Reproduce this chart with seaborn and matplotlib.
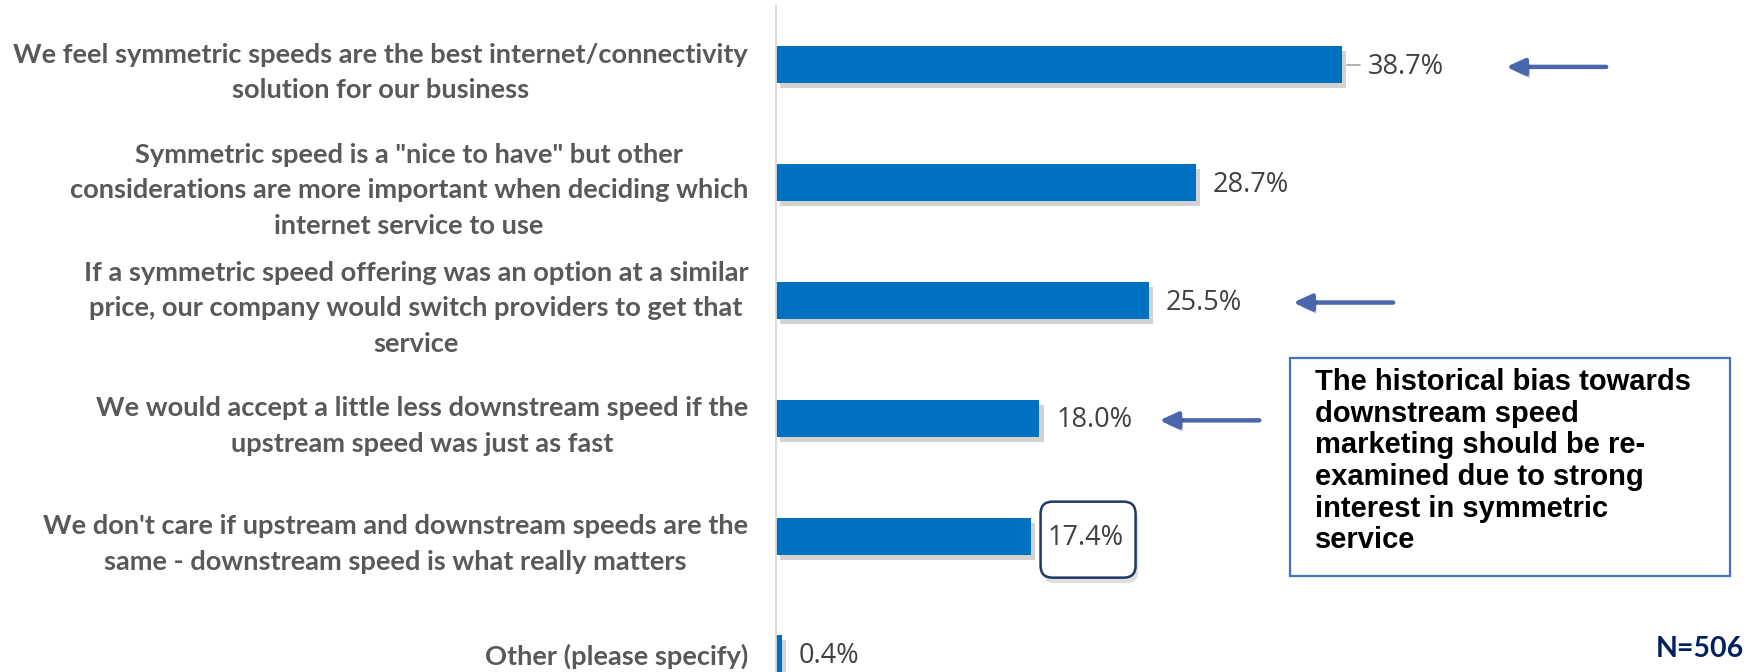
import matplotlib
matplotlib.use("Agg")
import matplotlib.pyplot as plt
import matplotlib.patheffects as pe
import matplotlib.transforms as mtransforms
from matplotlib.font_manager import FontProperties
from matplotlib.patches import FancyBboxPatch, Rectangle
from matplotlib.lines import Line2D
import seaborn as sns
import pandas as pd

# ---- data -------------------------------------------------------------
statements = [
    "We feel symmetric speeds are the best internet/connectivity\nsolution for our business",
    "Symmetric speed is a \"nice to have\" but other\nconsiderations are more important when deciding which\ninternet service to use",
    "If a symmetric speed offering was an option at a similar\nprice, our company would switch providers to get that\nservice",
    "We would accept a little less downstream speed if the\nupstream speed was just as fast",
    "We don't care if upstream and downstream speeds are the\nsame - downstream speed is what really matters",
    "Other (please specify)",
]
shares = [38.7, 28.7, 25.5, 18.0, 17.4, 0.4]
value_labels = [f"{v:.1f}%" for v in shares]
arrow_rows = [0, 2, 3]
boxed_row = 4
callout_text = ("The historical bias towards\ndownstream speed\nmarketing should be re-\n"
                "examined due to strong\ninterest in symmetric\nservice")
sample_note = "N=506"

# ---- style ------------------------------------------------------------
sns.set_theme(style="white")
plt.rcParams["font.family"] = ["Lato", "DejaVu Sans"]

BAR_BLUE = "#0070C0"
ARROW_BLUE = "#4A66AC"
LABEL_GREY = "#595959"
VALUE_GREY = "#404040"

W, H = 1746, 672
fig = plt.figure(figsize=(W / 100, H / 100), dpi=100)
fig.patch.set_facecolor("white")
renderer = fig.canvas.get_renderer()


def line_gap(px, fp):
    """linespacing factor giving a baseline-to-baseline distance of px pixels"""
    _, h, d = renderer.get_text_width_height_descent("lp", fp, ismath=False)
    return (px - d) / (h - d)


def size_for_width(text, px, fp):
    fp = fp.copy()
    fp.set_size(10)
    w, _, _ = renderer.get_text_width_height_descent(text, fp, ismath=False)
    return 10 * px / w


ax = fig.add_axes([776 / W, 0, (W - 776) / W, (H - 6) / H])

df = pd.DataFrame({"statement": statements, "share": shares})
sns.barplot(data=df, x="share", y="statement", orient="h", color=BAR_BLUE,
            saturation=1, width=0.314, linewidth=0, ax=ax)

for bar in ax.patches:
    bar.set_path_effects([
        pe.SimplePatchShadow(offset=(3, -3.5), shadow_rgbFace="#808080", alpha=0.35),
        pe.Normal(),
    ])

ax.set_xlim(0, 66.3)
ax.set_ylim(5.153, -0.5)
ax.set_xticks([])
ax.set_xlabel("")
ax.set_ylabel("")
for side in ("top", "right", "bottom"):
    ax.spines[side].set_visible(False)
ax.spines["left"].set_color("#D9D9D9")
ax.spines["left"].set_linewidth(1.3)

# category labels, bold grey, centred line by line
cat_fp = FontProperties(family=["Lato", "DejaVu Sans"], weight="bold")
cat_size = size_for_width(statements[0].split("\n")[0], 739, cat_fp)
cat_fp.set_size(cat_size)
ax.set_yticks(range(len(statements)))
ax.set_yticklabels(statements, fontproperties=cat_fp, color=LABEL_GREY,
                   multialignment="center", linespacing=line_gap(35.5, cat_fp))
ax.tick_params(axis="y", length=0, pad=20)


def anchored(x, row):
    """pixel-unit transform anchored at the data point (x, row)"""
    return mtransforms.Affine2D() + mtransforms.ScaledTranslation(x, row, ax.transData)


# value labels
val_fp = FontProperties(family=["Open Sans", "DejaVu Sans"], size=19.5)
for i, (v, txt) in enumerate(zip(shares, value_labels)):
    dx = 26 if i == 0 else 17
    ax.annotate(txt, xy=(v, i), xytext=(dx, -2), textcoords="offset pixels",
                ha="left", va="center", fontproperties=val_fp, color=VALUE_GREY)

# short leader line beside the first label
ax.add_artist(Line2D([5, 18], [0, 0], transform=anchored(shares[0], 0),
                     color="#A6A6A6", lw=1.2))

# rounded frame around one value label
frame = FancyBboxPatch((10, -41.5), 95, 76,
                       boxstyle="round,pad=0,rounding_size=12",
                       transform=anchored(shares[boxed_row], boxed_row),
                       facecolor="white", edgecolor="#1F3864", lw=1.8, zorder=1,
                       path_effects=[pe.SimplePatchShadow(offset=(2, -4), alpha=0.18),
                                     pe.Normal()])
ax.add_artist(frame)

# pointer arrows
arrow_heads = [164, 144, 120]
for row, hx in zip(arrow_rows, arrow_heads):
    tr = anchored(shares[row], row)
    ax.annotate("", xy=(hx, -2), xycoords=tr, xytext=(hx + 100, -2), textcoords=tr,
                arrowprops=dict(arrowstyle="-|>,head_length=1.1,head_width=0.5",
                                mutation_scale=10, lw=3.2, color=ARROW_BLUE,
                                shrinkA=0, shrinkB=0,
                                path_effects=[pe.SimplePatchShadow(offset=(2, -3), alpha=0.3),
                                              pe.Normal()]))

# call-out box
fig.add_artist(Rectangle((1290 / W, 1 - 576 / H), 440 / W, 218 / H,
                         transform=fig.transFigure, facecolor="white",
                         edgecolor="#4472C4", lw=1.6))
box_fp = FontProperties(family=["Liberation Sans", "DejaVu Sans"], weight="bold", size=21)
fig.text(1315 / W, 1 - 368 / H, callout_text, ha="left", va="top",
         fontproperties=box_fp, color="black", linespacing=line_gap(31.7, box_fp))

# sample size
fig.text(0.999, 1 - 649 / H, sample_note, ha="right", va="center",
         fontsize=20.5, fontweight="bold", color="#002060",
         family=["Lato", "DejaVu Sans"])

fig.savefig("out.png", dpi=100, facecolor="white")
